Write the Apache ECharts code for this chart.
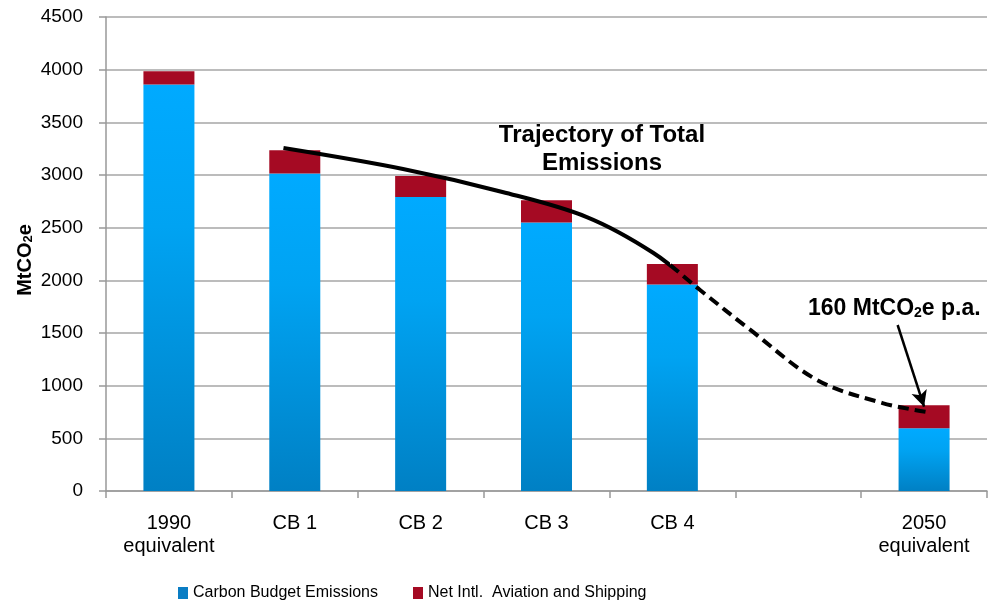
<!DOCTYPE html>
<html>
<head>
<meta charset="utf-8">
<script src="https://cdn.jsdelivr.net/npm/echarts@6/dist/echarts.min.js"></script>
<style>
  html, body { margin: 0; padding: 0; background: #fff; }
  #chart { width: 990px; height: 605px; }
</style>
</head>
<body>
<div id="chart"></div>
<script>
var categories = ['1990\nequivalent', 'CB 1', 'CB 2', 'CB 3', 'CB 4', '', '2050\nequivalent'];
var budgetEmissions = [3860, 3015, 2790, 2550, 1960, null, 595];
var aviationShipping = [125, 220, 200, 210, 195, null, 220];
// trajectory of total emissions: [position on category scale (0..7), MtCO2e]
var trajectory = [[1.41, 3256], [2.36, 3057], [3.15, 2839], [3.82, 2601], [4.35, 2260],
                  [4.72, 1908], [5.12, 1529], [5.65, 1054], [6.17, 835], [6.52, 750]];
var dashedFrom = 4.48; // trajectory is dashed beyond this point
var arrowFrom = [6.29, 1576];
var arrowTo = [6.50, 800];

var chart = echarts.init(document.getElementById('chart'));
var font = 'Liberation Sans, Arial, sans-serif';
var W = 990;

// black up to the split, transparent after (or the reverse)
function splitColor(px, solidFirst) {
  var o = Math.max(0, Math.min(1, px / W));
  var a = solidFirst ? '#000' : 'rgba(0,0,0,0)';
  var b = solidFirst ? 'rgba(0,0,0,0)' : '#000';
  return new echarts.graphic.LinearGradient(0, 0, W, 0, [
    { offset: 0, color: a }, { offset: o, color: a },
    { offset: o, color: b }, { offset: 1, color: b }
  ], true);
}

var option = {
  animation: false,
  textStyle: { fontFamily: font },
  grid: { left: 106, right: 3, top: 17, bottom: 114 },
  legend: {
    left: 173, top: 580,
    itemWidth: 10, itemHeight: 12, itemGap: 35,
    icon: 'rect',
    textStyle: { fontSize: 16, color: '#000', fontFamily: font },
    data: [
      { name: 'Carbon Budget Emissions', itemStyle: { color: '#0a7dc4' } },
      { name: 'Net Intl.  Aviation and Shipping', itemStyle: { color: '#a50a23' } }
    ]
  },
  xAxis: [{
    type: 'category',
    data: categories,
    axisLine: { lineStyle: { color: '#999', width: 1.5 } },
    axisTick: { show: true, interval: 0, length: 7, lineStyle: { color: '#999', width: 1.5 } },
    axisLabel: { interval: 0, fontSize: 20, color: '#000', lineHeight: 23, margin: 21 }
  }, {
    type: 'value', min: 0, max: 7, show: false
  }],
  yAxis: {
    type: 'value', min: 0, max: 4500, interval: 500,
    name: '{b|MtCO}{s|2}{b|e}',
    nameLocation: 'middle', nameRotate: 90, nameGap: 71,
    nameMoveOverlap: false,
    nameTextStyle: {
      padding: [0, 12, 0, 0],
      rich: {
        b: { fontSize: 20, fontWeight: 'bold', color: '#000', fontFamily: font, lineHeight: 24, verticalAlign: 'bottom' },
        s: { fontSize: 13, fontWeight: 'bold', color: '#000', fontFamily: font, lineHeight: 20, verticalAlign: 'bottom' }
      }
    },
    axisLine: { show: true, lineStyle: { color: '#999', width: 1.5 } },
    axisTick: { show: true, length: 7, lineStyle: { color: '#999', width: 1.5 } },
    axisLabel: { fontSize: 19, color: '#000', margin: 23, formatter: function (v) { return String(v); } },
    splitLine: { lineStyle: { color: '#a6a6a6', width: 1.5 } }
  },
  series: [{
    name: 'Carbon Budget Emissions',
    type: 'bar', stack: 'total', barWidth: 51,
    itemStyle: {
      color: new echarts.graphic.LinearGradient(0, 0, 0, 1, [
        { offset: 0, color: '#00aaff' },
        { offset: 0.35, color: '#00a3f2' },
        { offset: 1, color: '#0080c4' }
      ])
    },
    data: budgetEmissions
  }, {
    name: 'Net Intl.  Aviation and Shipping',
    type: 'bar', stack: 'total', barWidth: 51,
    itemStyle: { color: '#a50a23' },
    data: aviationShipping
  }, {
    id: 'solid',
    type: 'line', xAxisIndex: 1, smooth: 0.35,
    symbol: 'none', z: 5,
    lineStyle: { width: 4, color: '#000' },
    data: trajectory
  }, {
    id: 'dashed',
    type: 'line', xAxisIndex: 1, smooth: 0.35,
    symbol: 'none', z: 5,
    lineStyle: { width: 4, type: [11, 6], color: '#000' },
    data: trajectory,
    markLine: {
      silent: true,
      symbol: ['none', 'arrow'],
      symbolSize: [12, 16],
      label: { show: false },
      lineStyle: { color: '#000', width: 2.5, type: 'solid' },
      data: [[{ coord: arrowFrom }, { coord: arrowTo }]]
    }
  }],
  graphic: [{
    type: 'text', x: 602, y: 121,
    style: {
      text: 'Trajectory of Total\nEmissions',
      font: 'bold 24px ' + font, fill: '#000',
      align: 'center', verticalAlign: 'top', lineHeight: 28
    }
  }, {
    type: 'text', left: 808, top: 297,
    style: {
      text: '{b|160 MtCO}{s|2}{b|e p.a.}',
      rich: {
        b: { font: 'bold 23px ' + font, fill: '#000', lineHeight: 26, verticalAlign: 'bottom' },
        s: { font: 'bold 14px ' + font, fill: '#000', lineHeight: 20, verticalAlign: 'bottom' }
      }
    }
  }]
};
chart.setOption(option);

// split the trajectory into a solid and a dashed part at dashedFrom
var splitPx = chart.convertToPixel({ xAxisIndex: 1 }, dashedFrom);
chart.setOption({
  series: [
    { id: 'solid', lineStyle: { color: splitColor(splitPx, true) } },
    { id: 'dashed', lineStyle: { color: splitColor(splitPx, false) } }
  ]
});
</script>
</body>
</html>
